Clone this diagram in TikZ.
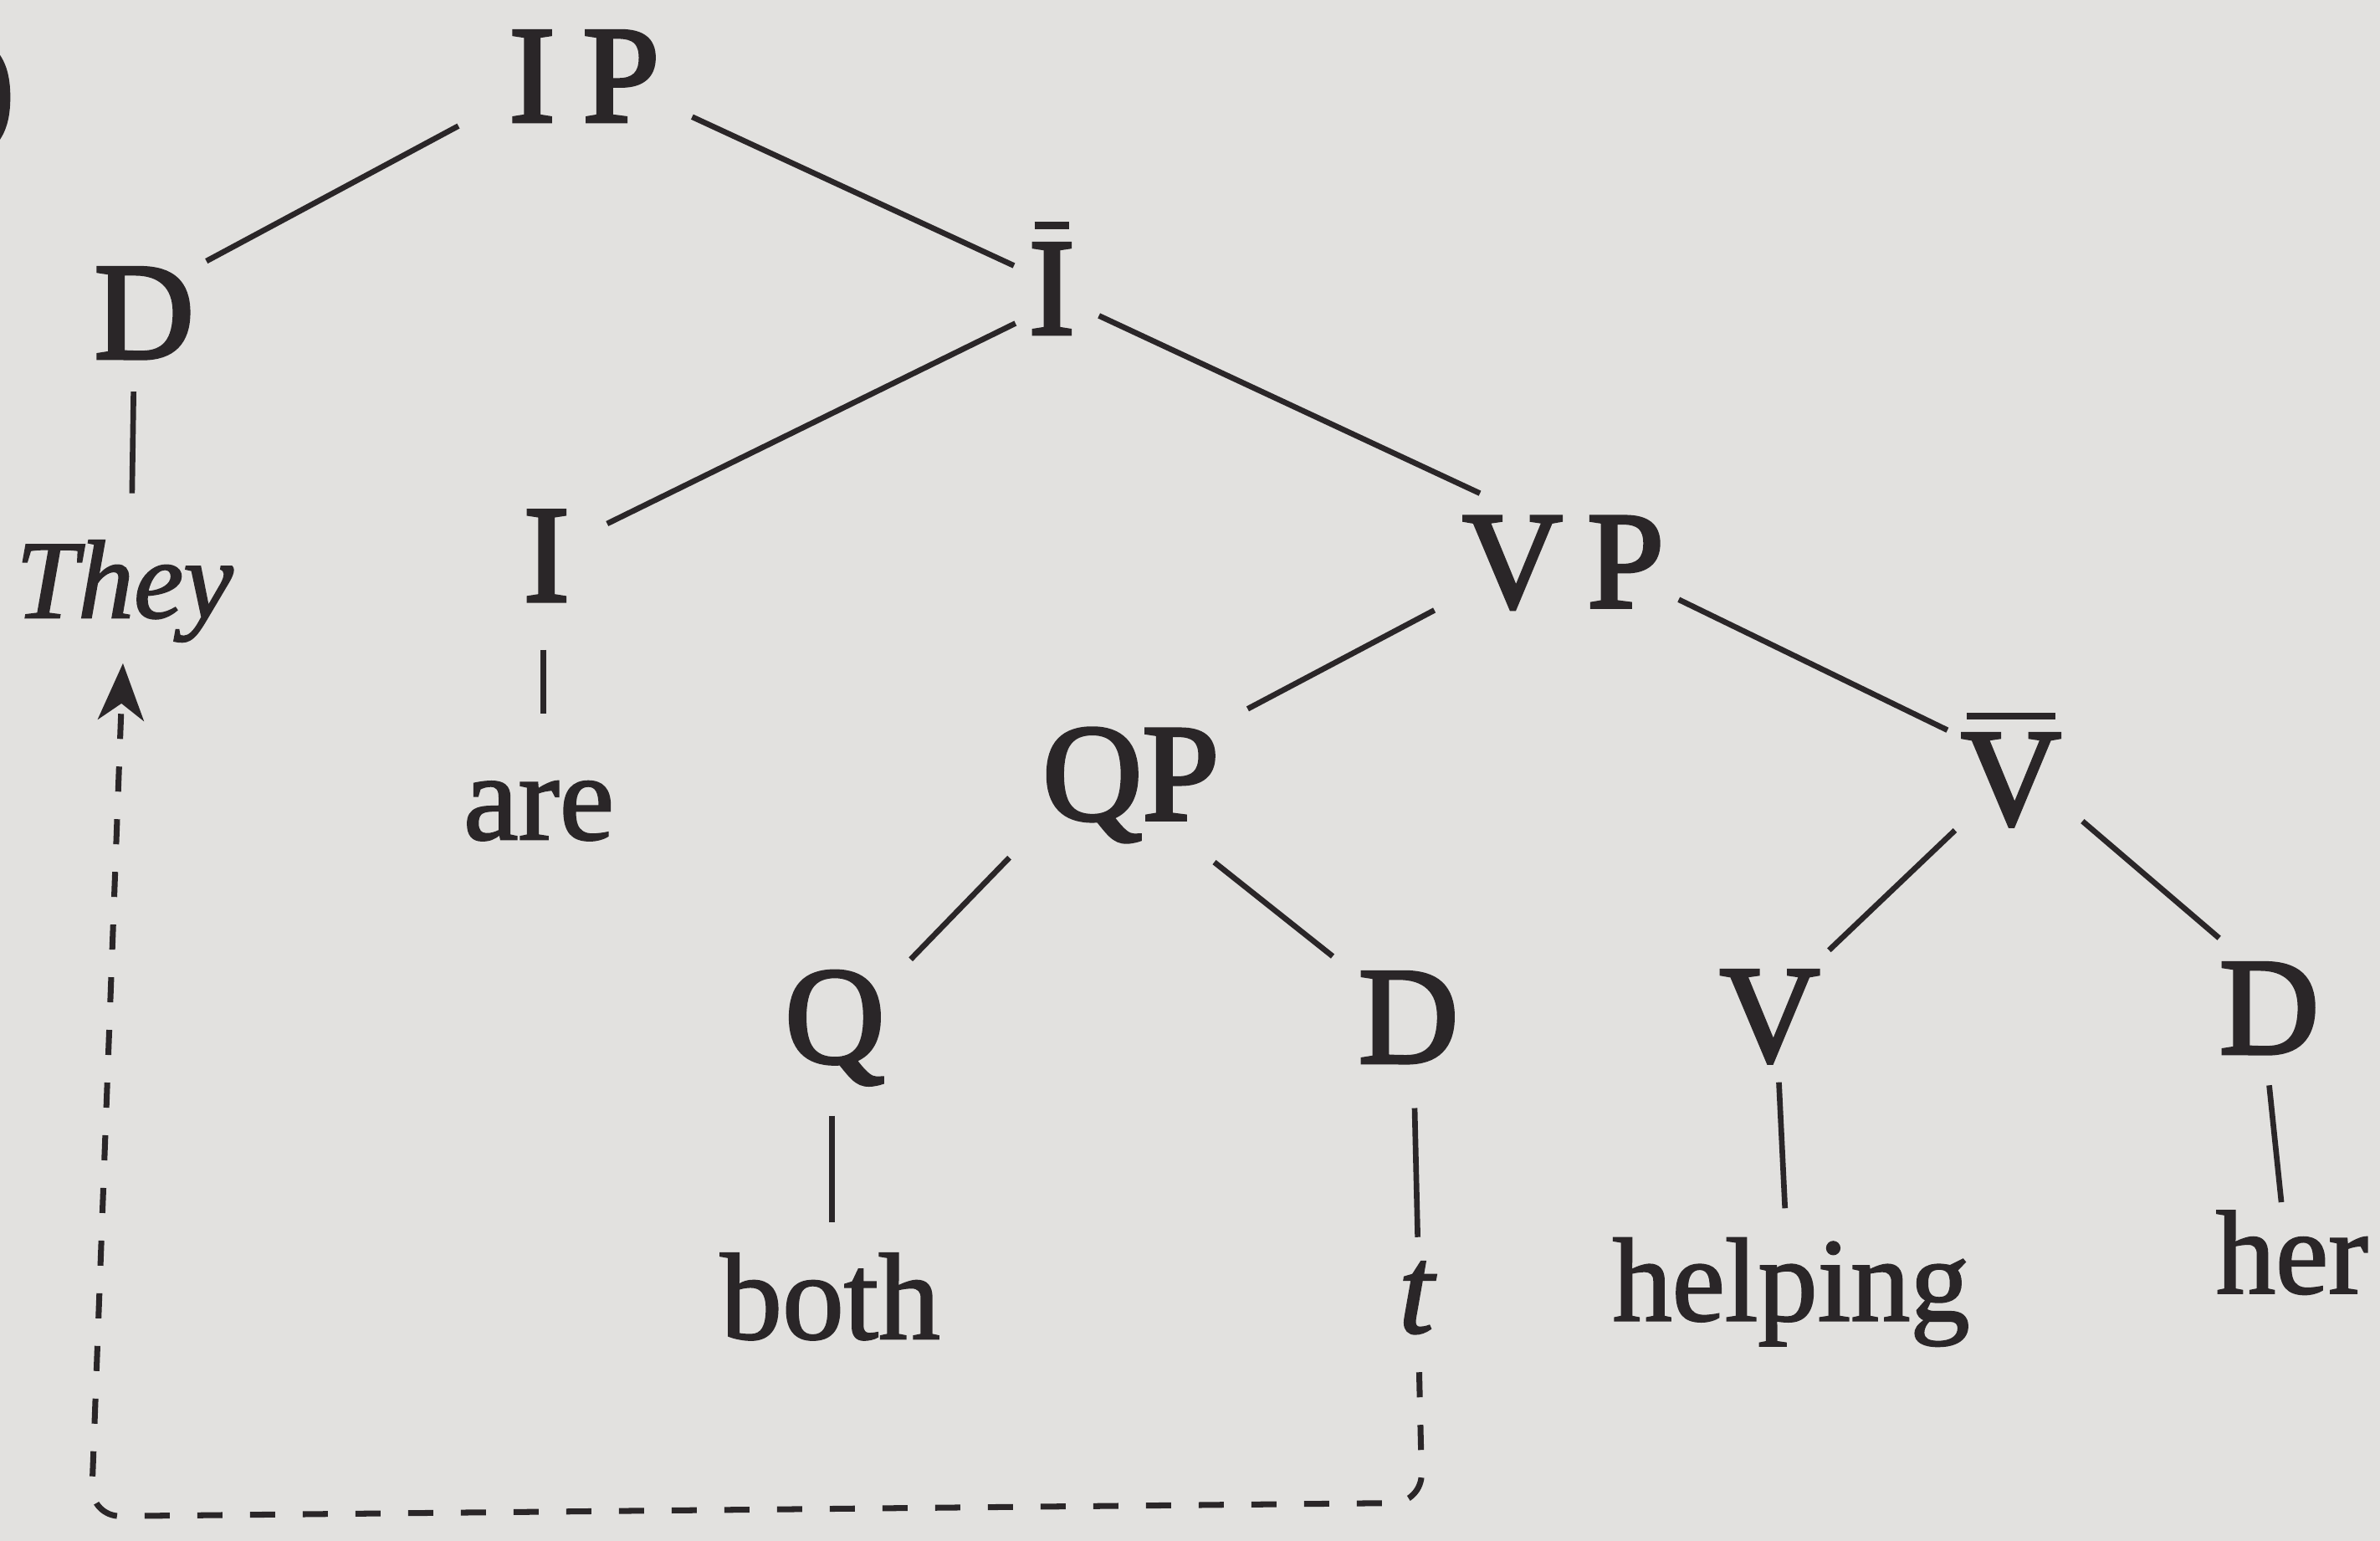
\documentclass[tikz,border=0pt]{standalone}
\usepackage{fontspec}
\setmainfont{Liberation Serif}
\newfontfamily\catfont{Liberation Serif}[FakeBold=2.6]
\newfontfamily\wordfont{Liberation Serif}[FakeBold=1.5]
\usetikzlibrary{calc,arrows.meta}
\definecolor{ink}{HTML}{2A2628}
\definecolor{paper}{HTML}{E2E1DF}
\newcommand\xbar[1]{\leavevmode\begingroup\setbox0\hbox{#1}%
  \rlap{\hspace{0.04em}\raisebox{\dimexpr\ht0+0.17cm\relax}{\color{ink}\rule{\dimexpr\wd0-0.08em\relax}{0.085cm}}}\box0\endgroup}
\begin{document}
\begin{tikzpicture}[x=0.018144cm,y=-0.018144cm,
  cat/.style={anchor=base,inner sep=0pt,text=ink,font=\catfont\fontsize{47}{52}\selectfont},
  word/.style={anchor=base,inner sep=0pt,text=ink,font=\wordfont\fontsize{42}{48}\selectfont},
  branch/.style={draw=ink,line width=1.9pt},
  trace/.style={draw=ink,line width=2pt,dash pattern=on 0.3cm off 0.33cm,
    rounded corners=0.35cm,-{Stealth[length=0.68cm,width=0.55cm,inset=0.2cm]}}]
\fill[paper] (0,0) rectangle (1568,1015);
\useasboundingbox (0,0) rectangle (1568,1015);
% example number (cut off at the edge, as in the reference)
\node[cat,anchor=base east] (num) at (10,86) {)};
% nodes
\node[cat] (IP) at (385,80) {I\kern0.2em P};
\node[cat] (D1) at (95,236) {D};
\node[word,font=\wordfont\fontsize{38}{44}\selectfont\itshape] (They) at (82,407) {They};
\node[cat] (Ibar) at (693,220) {\xbar{I}};
\node[cat] (I) at (360,396) {I};
\node[word] (are) at (355,553) {are};
\node[cat] (VP) at (1030,400) {V\kern0.18em P};
\node[cat] (QP) at (745,540) {QP};
\node[cat] (Vbar) at (1325,543) {\xbar{V}};
\node[cat] (Q) at (550,700) {Q};
\node[cat] (D2) at (928,700) {D};
\node[cat] (V) at (1166,699) {V};
\node[cat] (D3) at (1495,694) {D};
\node[word] (both) at (547,882) {both};
\node[word,font=\wordfont\fontsize{43}{48}\selectfont\itshape] (t) at (933,878) {t};
\node[word,font=\wordfont\fontsize{40.5}{46}\selectfont] (helping) at (1180,870) {helping};
\node[word,font=\wordfont\fontsize{40.5}{46}\selectfont] (her) at (1510,852) {her};
% branches
\draw[branch] ($(IP.base)+(-83,3)$) -- ($(D1.base)+(41,-64)$);
\draw[branch] ($(IP.base)+(71,-3)$) -- ($(Ibar.base)+(-25,-45)$);
\draw[branch] ($(Ibar.base)+(-24,-7)$) -- ($(I.base)+(40,-51)$);
\draw[branch] ($(Ibar.base)+(31,-12)$) -- ($(VP.base)+(-55,-75)$);
\draw[branch] ($(D1.base)+(-7,22)$) -- ($(They.base)+(5,-82)$);
\draw[branch] ($(I.base)+(-2,32)$) -- ($(are.base)+(3,-83)$);
\draw[branch] ($(VP.base)+(-85,2)$) -- ($(QP.base)+(77,-73)$);
\draw[branch] ($(VP.base)+(76,-5)$) -- ($(Vbar.base)+(-42,-62)$);
\draw[branch] ($(QP.base)+(-80,25)$) -- ($(Q.base)+(50,-68)$);
\draw[branch] ($(QP.base)+(55,28)$) -- ($(D2.base)+(-50,-70)$);
\draw[branch] ($(Vbar.base)+(-37,4)$) -- ($(V.base)+(39,-73)$);
\draw[branch] ($(Vbar.base)+(47,-2)$) -- ($(D3.base)+(-33,-76)$);
\draw[branch] ($(Q.base)+(-2,35)$) -- ($(both.base)+(1,-77)$);
\draw[branch] ($(D2.base)+(4,30)$) -- ($(t.base)+(1,-63)$);
\draw[branch] ($(V.base)+(6,14)$) -- ($(helping.base)+(-4,-74)$);
\draw[branch] ($(D3.base)+(0,21)$) -- ($(her.base)+(-7,-60)$);
% movement trace
\coordinate (c1) at (937,990);
\coordinate (c2) at (60,999);
\draw[trace] ($(t.base)+(2,26)$) -- (c1) -- (c2) -- ($(They.base)+(-1,30)$);
\end{tikzpicture}
\end{document}
